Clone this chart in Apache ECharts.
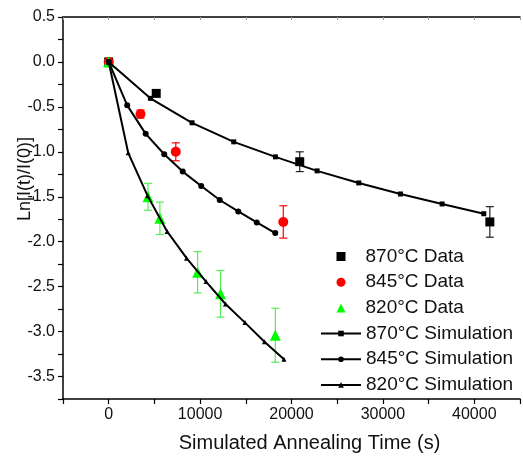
<!DOCTYPE html>
<html>
<head>
<meta charset="utf-8">
<script src="https://cdn.jsdelivr.net/npm/echarts@6/dist/echarts.min.js"></script>
<style>
html,body{margin:0;padding:0;background:#fff;}
#main{width:523px;height:460px;}
</style>
</head>
<body>
<div id="main"></div>
<script>
//实验数据 (time s, Ln[I(t)/I(0)], error)
var t870 = [0, 5200, 20900, 41700];
var y870 = [0, -0.35, -1.11, -1.78];
var e870 = [0, 0, 0.11, 0.17];

var t845 = [0, 3480, 7340, 19100];
var y845 = [0, -0.58, -1.00, -1.78];
var e845 = [0, 0.045, 0.10, 0.18];

var t820 = [0, 4300, 5600, 9730, 12230, 18230];
var y820 = [0, -1.50, -1.74, -2.34, -2.58, -3.04];
var e820 = [0, 0.15, 0.18, 0.23, 0.26, 0.30];

//模拟曲线
var st870 = [0, 4560, 9120, 13680, 18240, 22800, 27360, 31920, 36480, 41040];
var sy870 = [0, -0.405, -0.677, -0.889, -1.056, -1.212, -1.346, -1.469, -1.58, -1.689];

var st845 = [0, 2025, 4050, 6075, 8100, 10125, 12150, 14175, 16200, 18225];
var sy845 = [0, -0.483, -0.80, -1.027, -1.22, -1.38, -1.536, -1.663, -1.786, -1.904];

var st820 = [0, 2130, 4260, 6390, 8520, 10650, 12780, 14910, 17040, 19170];
var sy820 = [0, -1.011, -1.49, -1.886, -2.183, -2.444, -2.693, -2.90, -3.114, -3.307];

var xLabels = [0, 10000, 20000, 30000, 40000];
var yLabels = [0.5, 0, -0.5, -1, -1.5, -2, -2.5, -3, -3.5];

function pairs(xs, ys) {
    var out = [];
    for (var i = 0; i < xs.length; i++) {
        out.push([xs[i], ys[i]]);
    }
    return out;
}
function errs(xs, ys, es) {
    var out = [];
    for (var i = 0; i < xs.length; i++) {
        if (es[i] > 0) out.push([xs[i], ys[i], es[i]]);
    }
    return out;
}
//误差棒
function errRender(color) {
    return function (params, api) {
        var x = api.value(0), v = api.value(1), e = api.value(2);
        var hi = api.coord([x, v + e]);
        var lo = api.coord([x, v - e]);
        var cw = 4;
        var st = { stroke: color, lineWidth: 1.2 };
        return {
            type: 'group',
            children: [
                { type: 'line', shape: { x1: hi[0], y1: hi[1], x2: lo[0], y2: lo[1] }, style: st },
                { type: 'line', shape: { x1: hi[0] - cw, y1: hi[1], x2: hi[0] + cw, y2: hi[1] }, style: st },
                { type: 'line', shape: { x1: lo[0] - cw, y1: lo[1], x2: lo[0] + cw, y2: lo[1] }, style: st }
            ]
        };
    };
}

var font = 'Liberation Sans, Arial, sans-serif';
var myChart = echarts.init(document.getElementById('main'));

myChart.setOption({
    animation: false,
    backgroundColor: '#fff',
    grid: { left: 63, top: 17, right: -6, bottom: 61 },
    legend: [{
        data: ['870°C Data', '845°C Data', '820°C Data'],
        orient: 'vertical',
        left: 331.5,
        top: 242,
        itemWidth: 9,
        itemHeight: 9,
        itemGap: 6.7,
        textStyle: { fontSize: 19, lineHeight: 19, color: '#111', fontFamily: font, padding: [0, 0, 0, 15] }
    }, {
        data: ['870°C Simulation', '845°C Simulation', '820°C Simulation'],
        orient: 'vertical',
        left: 315,
        top: 319,
        itemWidth: 40,
        itemHeight: 7,
        itemGap: 6.7,
        textStyle: { fontSize: 19, lineHeight: 19, color: '#111', fontFamily: font }
    }],
    xAxis: [{
        type: 'value',
        min: -5000,
        max: 45000,
        interval: 5000,
        name: 'Simulated Annealing Time (s)',
        nameLocation: 'middle',
        nameGap: 34,
        nameMoveOverlap: false,
        nameTextStyle: { fontSize: 20, color: '#111', fontFamily: font, padding: [0, 0, 0, 36] },
        axisLine: { onZero: false, lineStyle: { color: '#000', width: 1.5 } },
        axisTick: { length: 5, lineStyle: { color: '#000', width: 1.2 } },
        axisLabel: {
            margin: 8,
            fontSize: 16,
            color: '#111',
            fontFamily: font,
            formatter: function (v) { return xLabels.indexOf(v) >= 0 ? String(v) : ''; }
        },
        splitLine: { show: false }
    }, {
        type: 'value',
        position: 'top',
        min: -5000,
        max: 45000,
        interval: 5000,
        axisLine: { onZero: false, lineStyle: { color: '#000', width: 1.5 } },
        axisTick: { inside: true, length: 3, lineStyle: { color: '#999' } },
        axisLabel: { show: false },
        splitLine: { show: false }
    }],
    yAxis: [{
        type: 'value',
        min: -3.75,
        max: 0.5,
        interval: 0.25,
        name: 'Ln[I(t)/I(0)]',
        nameLocation: 'middle',
        nameGap: 29,
        nameMoveOverlap: false,
        nameTextStyle: { fontSize: 18, color: '#111', fontFamily: font, padding: [0, 0, 0, 58] },
        axisLine: { onZero: false, lineStyle: { color: '#000', width: 1.5 } },
        axisTick: { length: 5, lineStyle: { color: '#000', width: 1.2 } },
        axisLabel: {
            margin: 8,
            fontSize: 16,
            color: '#111',
            fontFamily: font,
            formatter: function (v) {
                for (var i = 0; i < yLabels.length; i++) {
                    if (Math.abs(yLabels[i] - v) < 1e-6) return yLabels[i].toFixed(1);
                }
                return '';
            }
        },
        splitLine: { show: false }
    }],
    series: [{
        type: 'custom',
        renderItem: errRender('#222'),
        data: errs(t870, y870, e870),
        z: 1
    }, {
        type: 'custom',
        renderItem: errRender('#ff0000'),
        data: errs(t845, y845, e845),
        z: 1
    }, {
        type: 'custom',
        renderItem: errRender('#55ee55'),
        data: errs(t820, y820, e820),
        z: 1
    }, {
        name: '870°C Data',
        type: 'scatter',
        symbol: 'rect',
        symbolSize: 9,
        itemStyle: { color: '#000', opacity: 1 },
        data: pairs(t870, y870),
        z: 2
    }, {
        name: '845°C Data',
        type: 'scatter',
        symbol: 'circle',
        symbolSize: 10,
        itemStyle: { color: '#ff0000', opacity: 1 },
        data: pairs(t845, y845),
        z: 2
    }, {
        name: '820°C Data',
        type: 'scatter',
        symbol: 'triangle',
        symbolSize: 11,
        itemStyle: { color: '#00ff00', opacity: 1 },
        data: pairs(t820, y820),
        z: 2
    }, {
        name: '870°C Simulation',
        type: 'line',
        symbol: 'rect',
        symbolSize: 5,
        lineStyle: { color: '#000', width: 2 },
        itemStyle: { color: '#000' },
        data: pairs(st870, sy870),
        z: 3
    }, {
        name: '845°C Simulation',
        type: 'line',
        symbol: 'circle',
        symbolSize: 6,
        lineStyle: { color: '#000', width: 2 },
        itemStyle: { color: '#000' },
        data: pairs(st845, sy845),
        z: 3
    }, {
        name: '820°C Simulation',
        type: 'line',
        symbol: 'triangle',
        symbolSize: 5,
        lineStyle: { color: '#000', width: 2 },
        itemStyle: { color: '#000' },
        data: pairs(st820, sy820),
        z: 3
    }]
});
</script>
</body>
</html>
